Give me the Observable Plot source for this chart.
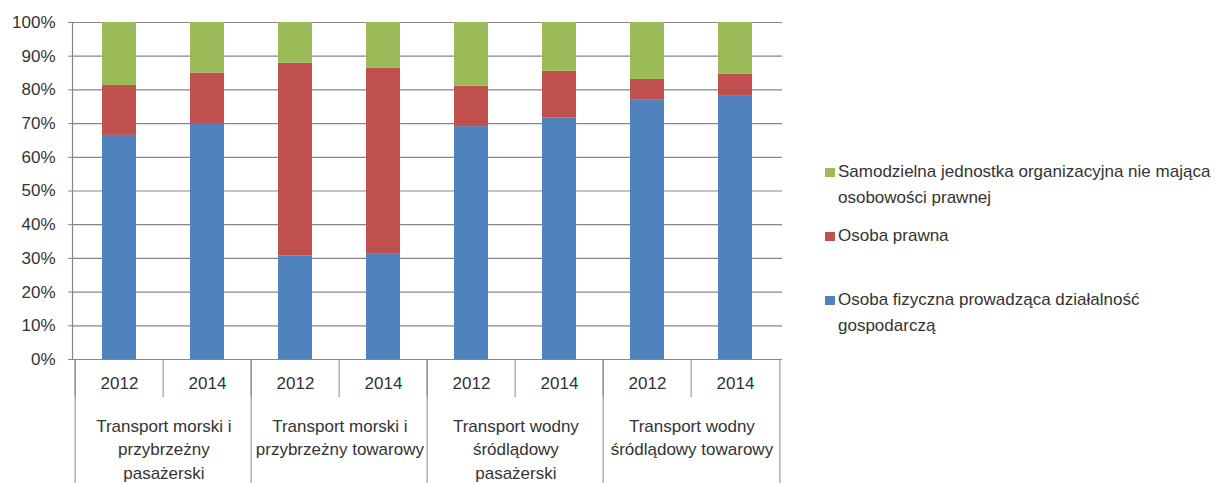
<!DOCTYPE html>
<html><head><meta charset="utf-8">
<script src="https://cdn.jsdelivr.net/npm/d3@7"></script>
<script src="https://cdn.jsdelivr.net/npm/@observablehq/plot@0.6"></script>
<style>
body{margin:0;background:#fff;font-family:"Liberation Sans",Arial,sans-serif;}
#wrap{position:relative;width:1217px;height:483px;background:#fff;}
#chart{position:absolute;left:0;top:0;}
#legend{position:absolute;left:825px;top:159px;width:392px;font-size:17px;color:#333;}
.item{display:flex;align-items:flex-start;line-height:26px;}
.item + .item{margin-top:12px;}
.item.last{margin-top:38px;}
.sw{width:10px;height:9px;margin-top:9px;margin-right:3px;flex:none;}
</style></head><body>
<div id="wrap"><div id="chart"></div><div id="legend"></div></div>
<script>
const groups = [
  "Transport morski i przybrzeżny pasażerski",
  "Transport morski i przybrzeżny towarowy",
  "Transport wodny śródlądowy pasażerski",
  "Transport wodny śródlądowy towarowy"
];
const groupLabels = [
  "Transport morski i\nprzybrzeżny\npasażerski",
  "Transport morski i\nprzybrzeżny towarowy",
  "Transport wodny\nśródlądowy\npasażerski",
  "Transport wodny\nśródlądowy towarowy"
];
const years = ["2012", "2014"];
const series = [
  "Osoba fizyczna prowadząca działalność gospodarczą",
  "Osoba prawna",
  "Samodzielna jednostka organizacyjna nie mająca osobowości prawnej"
];
const colors = ["#4F81BD", "#C0504D", "#9BBB59"];
// values in %, order: group1 2012, group1 2014, group2 2012, ...
const fizyczna    = [66.5, 69.9, 30.7, 31.2, 69.1, 71.7, 77.1, 78.3];
const prawna      = [14.8, 15.1, 57.2, 55.2, 12.0, 13.8,  6.0,  6.3];
const samodzielna = [18.7, 15.0, 12.1, 13.6, 18.9, 14.5, 16.9, 15.4];
const yTicks = [0, 10, 20, 30, 40, 50, 60, 70, 80, 90, 100];

const seriesValues = [fizyczna, prawna, samodzielna];
const keys = [];
const rows = [];
groups.forEach((g, gi) => years.forEach((y, yi) => {
  const idx = gi * years.length + yi;
  const key = g + "|" + y;
  keys.push(key);
  series.forEach((s, si) => rows.push({key, series: s, value: seriesValues[si][idx]}));
}));
const groupRows = groups.map((g, gi) => ({first: g + "|" + years[0], label: groupLabels[gi]}));
const yearOf = k => k.split("|")[1];

const W = 800, ML = 72, MR = 18;
const step = (W - ML - MR) / keys.length;
const lineCol = "#868686";
const txtCol = "#333";

const chart = Plot.plot({
  width: W, height: 483,
  marginTop: 22, marginBottom: 124, marginLeft: ML, marginRight: MR,
  style: {fontFamily: '"Liberation Sans", Arial, sans-serif', fontSize: "17px", color: txtCol, background: "#fff"},
  x: {domain: keys, paddingInner: 0.617, paddingOuter: 0.3085, axis: null},
  y: {domain: [0, 100], axis: null},
  color: {domain: series, range: colors},
  marks: [
    Plot.gridY(yTicks, {stroke: lineCol, strokeOpacity: 1, strokeWidth: 1.2}),
    Plot.barY(rows, {x: "key", y: "value", fill: "series", order: series}),
    Plot.frame({anchor: "left", stroke: lineCol, strokeWidth: 1.2}),
    Plot.axisY(yTicks, {tickFormat: d => d + "%", tickSize: 4, tickPadding: 13, stroke: lineCol, fill: txtCol, label: null, fontSize: 17}),
    Plot.axisX({tickFormat: yearOf, tickSize: 0, tickPadding: 17, fill: txtCol, label: null, fontSize: 17}),
    Plot.axisX({tickFormat: () => "", tickSize: 38, dx: -step / 2, stroke: lineCol, label: null}),
    Plot.axisX(groupRows.map(d => d.first), {tickFormat: () => "", tickSize: 124, dx: -step / 2, stroke: lineCol, label: null}),
    Plot.axisX([keys[keys.length - 1]], {tickFormat: () => "", tickSize: 124, dx: step / 2, stroke: lineCol, label: null}),
    Plot.text(groupRows, {x: "first", dx: step / 2, text: "label", frameAnchor: "bottom", dy: 55, lineAnchor: "top", lineHeight: 1.41, fill: txtCol, fontSize: 17})
  ]
});
document.getElementById("chart").appendChild(chart);

const legend = document.getElementById("legend");
const colorScale = chart.scale("color");
[...series].reverse().forEach((s, i, arr) => {
  const item = document.createElement("div");
  item.className = "item" + (i === arr.length - 1 ? " last" : "");
  const sw = document.createElement("span");
  sw.className = "sw";
  sw.style.background = colorScale.apply(s);
  const t = document.createElement("span");
  t.textContent = s;
  item.appendChild(sw);
  item.appendChild(t);
  legend.appendChild(item);
});
</script>
</body></html>
